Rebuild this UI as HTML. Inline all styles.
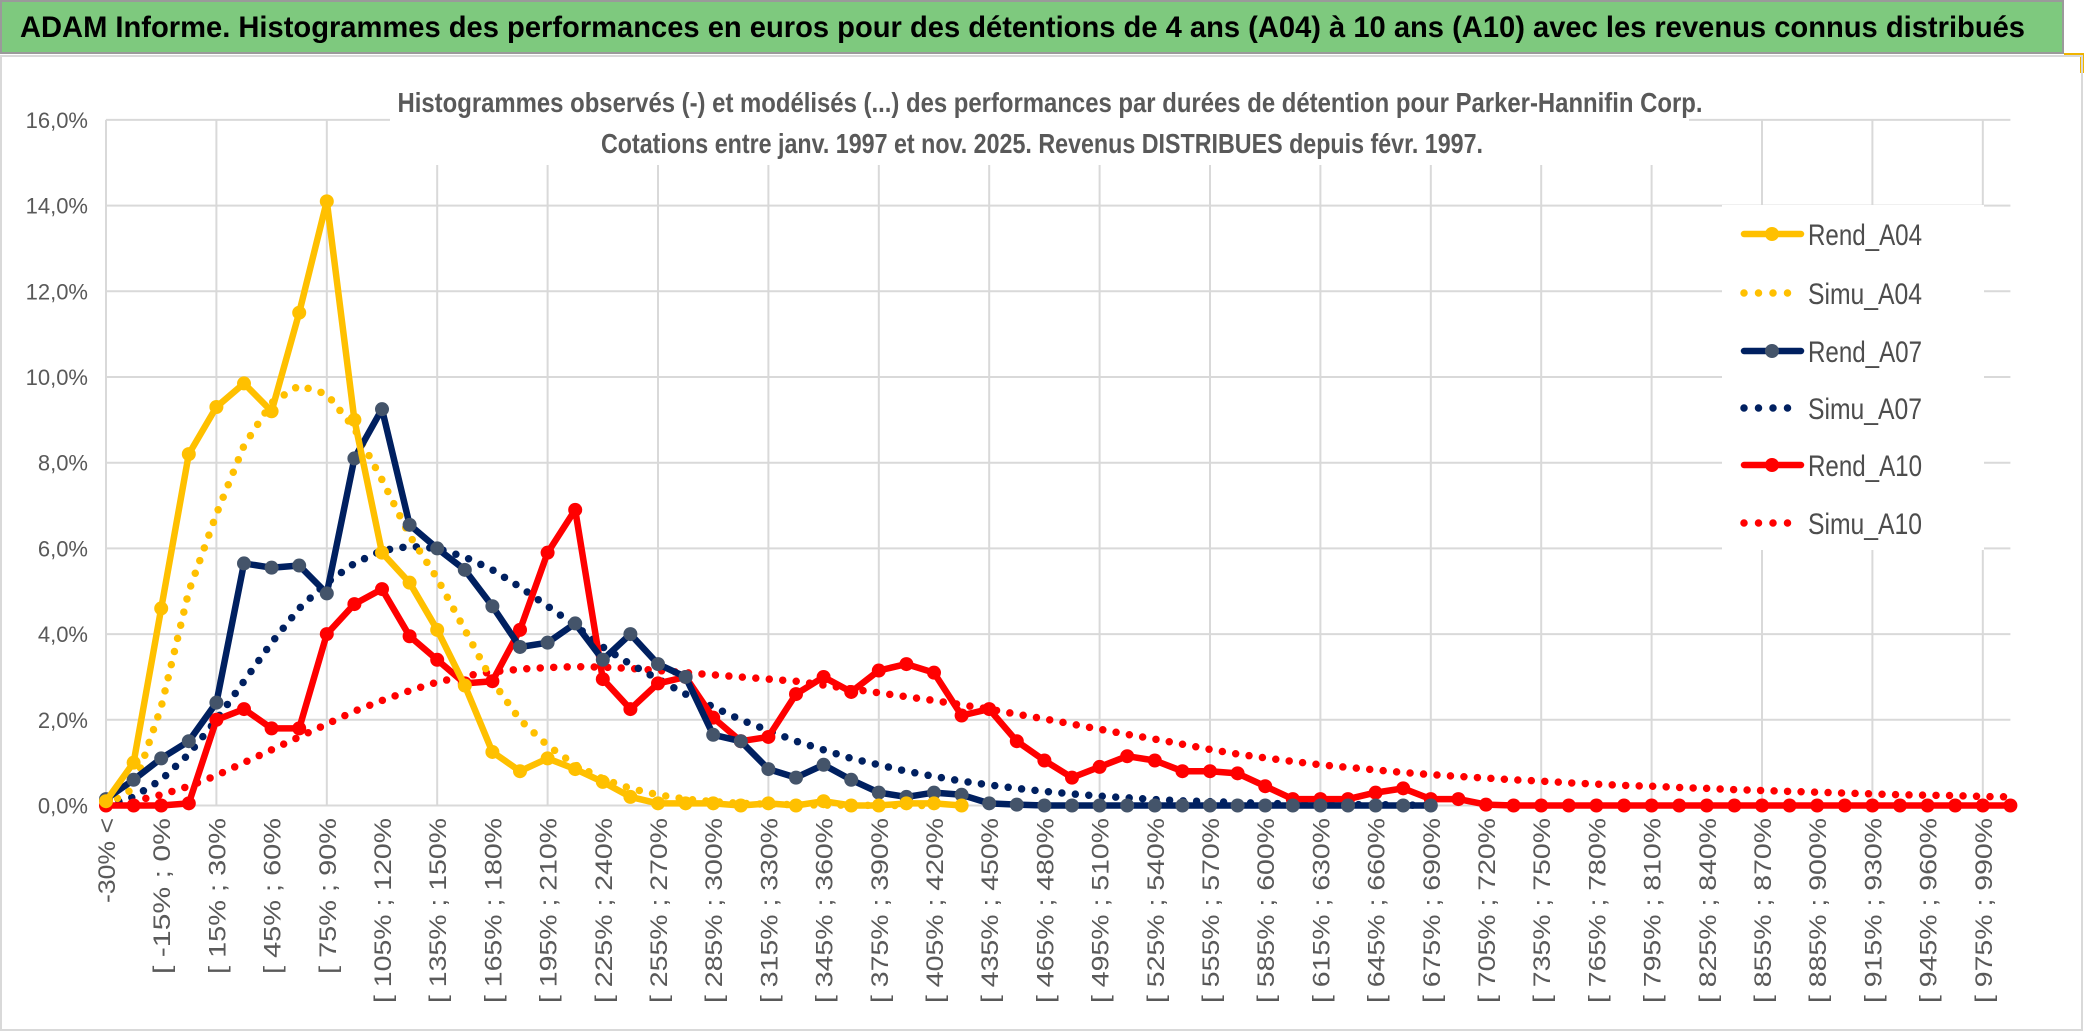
<!DOCTYPE html>
<html><head><meta charset="utf-8"><style>
html,body{margin:0;padding:0;background:#fff;width:2086px;height:1033px;overflow:hidden}
svg{display:block;font-family:"Liberation Sans",sans-serif}
</style></head><body>
<svg id="chart" width="2086" height="1033" viewBox="0 0 2086 1033">
<rect x="0" y="0" width="2086" height="1033" fill="#fff"/>
<rect x="1" y="1" width="2062" height="52" fill="#7ec97e" stroke="#9a9a9a" stroke-width="2"/>
<text x="20" y="37" font-size="30" font-weight="bold" fill="#000" textLength="2005" lengthAdjust="spacingAndGlyphs">ADAM Informe. Histogrammes des performances en euros pour des détentions de 4 ans (A04) à 10 ans (A10) avec les revenus connus distribués</text>
<rect x="2064" y="53" width="20" height="3" fill="#f0b400"/>
<rect x="2080" y="53" width="4" height="20" fill="#f0b400"/>
<rect x="1" y="56" width="2081" height="974" fill="none" stroke="#d9d9d9" stroke-width="2"/>
<g id="grid"></g>
<rect x="390" y="60" width="1299" height="105" fill="#fff"/>
<text x="1050" y="112" text-anchor="middle" font-size="28" font-weight="bold" fill="#595959" textLength="1305" lengthAdjust="spacingAndGlyphs">Histogrammes observés (-) et modélisés (...) des performances par durées de détention pour Parker-Hannifin Corp.</text>
<text x="1042" y="153" text-anchor="middle" font-size="28" font-weight="bold" fill="#595959" textLength="882" lengthAdjust="spacingAndGlyphs">Cotations entre janv. 1997 et nov. 2025. Revenus DISTRIBUES depuis févr. 1997.</text>
<g id="yticks"></g>
<g id="xticks"></g>
<g id="series"></g>
<rect x="1722" y="205" width="262" height="345" fill="#fff"/>
<g id="legend"></g>
</svg>
<script>
const yTicks = [0,2,4,6,8,10,12,14,16];
const rendA04 = [0.1,1.0,4.6,8.2,9.3,9.85,9.2,11.5,14.1,9.0,5.9,5.2,4.1,2.8,1.25,0.8,1.1,0.85,0.55,0.2,0.05,0.05,0.05,0.0,0.05,0.0,0.1,0.0,0.0,0.05,0.05,0.0];
const simuA04 = [0,0.4,2.3,5.0,6.8,8.4,9.4,9.8,9.6,8.8,7.6,6.3,5.3,4.1,2.9,2.0,1.4,0.95,0.62,0.4,0.25,0.15,0.09,0.05,0.03,0.02,0.01,0.01,0,0,0];
const rendA07 = [0.15,0.6,1.1,1.5,2.4,5.65,5.55,5.6,4.95,8.1,9.25,6.55,6.0,5.5,4.65,3.7,3.8,4.25,3.4,4.0,3.3,3.0,1.65,1.5,0.85,0.65,0.95,0.6,0.3,0.2,0.3,0.25,0.05,0.02,0,0,0,0,0,0,0,0,0,0,0,0,0,0,0];
const simuA07 = [0,0.2,0.6,1.2,2.0,2.9,3.8,4.6,5.2,5.65,5.95,6.05,6.0,5.8,5.5,5.1,4.65,4.2,3.7,3.3,2.95,2.6,2.3,2.0,1.75,1.5,1.3,1.1,0.95,0.8,0.68,0.57,0.48,0.4,0.33,0.27,0.22,0.18,0.14,0.11,0.09,0.07,0.05,0.04,0.03,0.02,0.02,0.01,0.01];
const rendA10 = [0,0,0,0.05,2.0,2.25,1.8,1.8,4.0,4.7,5.05,3.95,3.4,2.85,2.9,4.1,5.9,6.9,2.95,2.25,2.85,3.0,2.05,1.5,1.6,2.6,3.0,2.65,3.15,3.3,3.1,2.1,2.25,1.5,1.05,0.65,0.9,1.15,1.05,0.8,0.8,0.75,0.45,0.15,0.15,0.15,0.3,0.4,0.15,0.15,0.02,0,0,0,0,0,0,0,0,0,0,0,0,0,0,0,0,0,0,0];
const simuA10 = [0,0.1,0.25,0.45,0.7,1.0,1.3,1.6,1.9,2.2,2.45,2.68,2.88,3.02,3.12,3.18,3.22,3.24,3.23,3.2,3.15,3.1,3.05,3.0,2.95,2.9,2.81,2.72,2.63,2.54,2.45,2.35,2.25,2.13,2.02,1.9,1.78,1.66,1.55,1.43,1.31,1.2,1.11,1.03,0.95,0.89,0.83,0.77,0.72,0.68,0.64,0.6,0.57,0.53,0.5,0.47,0.45,0.42,0.4,0.37,0.35,0.33,0.31,0.29,0.27,0.25,0.24,0.23,0.21,0.2];
const nCats = 70;

const NS = "http://www.w3.org/2000/svg";
const X0 = 106, DX = 27.6, Y0 = 805.5, DY = 42.85;
function xs(i){ return X0 + DX*i; }
function ys(v){ return Y0 - DY*v; }
function mk(tag, attrs, parent){ const e=document.createElementNS(NS,tag); for(const k in attrs) e.setAttribute(k,attrs[k]); parent.appendChild(e); return e; }
function catLabel(i){ if(i===0) return "-30% <"; const a=-30+15*(i-1); return "[ "+a+"% ; "+(a+15)+"%"; }

const grid=document.getElementById('grid');
yTicks.forEach(t=>{
  const l=mk('line',{x1:X0,x2:xs(nCats-1),y1:ys(t),y2:ys(t),stroke:'#d9d9d9','stroke-width':2},grid);
  
  
});
for(let i=0;i<nCats;i+=4){
  const l=mk('line',{x1:xs(i),x2:xs(i),y1:ys(16),y2:Y0,stroke:'#d9d9d9','stroke-width':2},grid);
  
  
}
const yt=document.getElementById('yticks');
yTicks.forEach(t=>{
  const e=mk('text',{x:88,y:ys(t)+8,'text-anchor':'end','font-size':22,fill:'#595959'},yt);
  e.textContent=t.toFixed(1).replace('.',',')+'%';
  
  
});
const xt=document.getElementById('xticks');
for(let i=0;i<nCats;i+=2){
  const x=xs(i)+9, y=818;
  const s=catLabel(i);
  const e=mk('text',{x:x,y:y,'text-anchor':'end','font-size':24,fill:'#595959',textLength:(s.length*14.2).toFixed(0),lengthAdjust:'spacingAndGlyphs',transform:'rotate(-90 '+x+' '+y+')'},xt);
  e.textContent=s;
  
  
}
const sg=document.getElementById('series');
function drawSeries(vals,color,dotted,marker,name){
  const pts=vals.map((v,i)=>xs(i).toFixed(1)+','+ys(v).toFixed(1)).join(' ');
  const attrs={points:pts,fill:'none',stroke:color,'stroke-linejoin':'round','stroke-linecap':'round'};
  if(dotted){attrs['stroke-width']=7.5;attrs['stroke-dasharray']='0 13.5';} else attrs['stroke-width']=6.5;
  const pl=mk('polyline',attrs,sg);
  
  
  if(marker){
    vals.forEach((v,i)=>{
      const c=mk('circle',{cx:xs(i),cy:ys(v),r:7,fill:marker},sg);
      
      
    });
  }
}
drawSeries(simuA10,'#ff0000',true,null,'simu-a10');
drawSeries(simuA07,'#002060',true,null,'simu-a07');
drawSeries(simuA04,'#ffc000',true,null,'simu-a04');
drawSeries(rendA10,'#ff0000',false,'#ff0000','rend-a10');
drawSeries(rendA07,'#002060',false,'#44546a','rend-a07');
drawSeries(rendA04,'#ffc000',false,'#ffc000','rend-a04');

const lg=document.getElementById('legend');
const legendItems=[['Rend_A04','#ffc000',false,'#ffc000'],['Simu_A04','#ffc000',true,null],['Rend_A07','#002060',false,'#44546a'],['Simu_A07','#002060',true,null],['Rend_A10','#ff0000',false,'#ff0000'],['Simu_A10','#ff0000',true,null]];
const legendY=[234,293,351,408,465,523];
legendItems.forEach((it,k)=>{
  const g=mk('g',{},lg);
  
  
  const y=legendY[k];
  const a={x1:1744,x2:1801,y1:y,y2:y,stroke:it[1],'stroke-linecap':'round'};
  if(it[2]){a['stroke-width']=7.5;a['stroke-dasharray']='0 14.5';a.x2=1795;} else a['stroke-width']=6.5;
  mk('line',a,g);
  if(it[3]) mk('circle',{cx:1772,cy:y,r:7,fill:it[3]},g);
  const t=mk('text',{x:1808,y:y+11,'font-size':30,fill:'#4d4d4d',textLength:114,lengthAdjust:'spacingAndGlyphs'},g);
  t.textContent=it[0];
});
</script>
</body></html>
